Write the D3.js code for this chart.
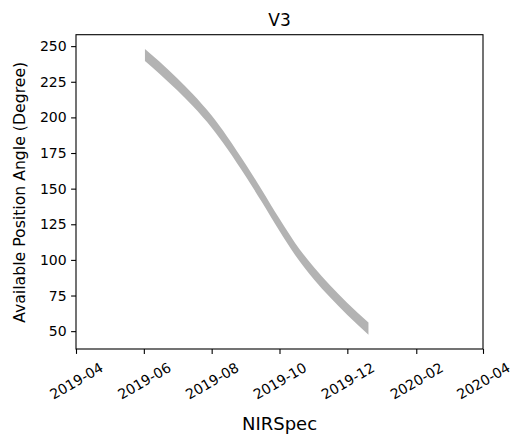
<!DOCTYPE html>
<html>
<head>
<meta charset="utf-8">
<script src="https://cdn.jsdelivr.net/npm/d3@7"></script>
<style>
  html, body { margin: 0; padding: 0; background: #fff; }
  text { font-family: "DejaVu Sans", sans-serif; fill: #000; }
</style>
</head>
<body>
<svg id="chart" width="513" height="435"></svg>
<script>
// Observation window for V3 position angle (NIRSpec)
const dates = ["2019-06-02", "2019-06-15", "2019-07-01", "2019-07-15", "2019-08-01",
               "2019-08-15", "2019-09-01", "2019-09-15", "2019-10-01", "2019-10-15",
               "2019-11-01", "2019-11-15", "2019-12-01", "2019-12-20"];
const paMax = [248.0, 239.2, 227.5, 216.5, 201.3, 186.5, 166.6, 149.3, 128.8, 111.9,
               94.8, 82.6, 69.8, 56.0];
const paMin = [239.5, 230.7, 219.0, 208.0, 192.8, 178.0, 158.1, 140.8, 120.3, 103.4,
               86.3, 74.1, 61.3, 47.5];
const yTicks = [50, 75, 100, 125, 150, 175, 200, 225, 250];
const xTickDates = ["2019-04-01", "2019-06-01", "2019-08-01", "2019-10-01",
                    "2019-12-01", "2020-02-01", "2020-04-01"];
const xDomain = ["2019-04-01", "2020-04-01"];

const parse = d3.utcParse("%Y-%m-%d");
const fmt = d3.utcFormat("%Y-%m");
const rows = dates.map((d, i) => ({ t: parse(d), hi: paMax[i], lo: paMin[i] }));

const svg = d3.select("#chart");
const m = { left: 76, right: 483, top: 34.7, bottom: 349 };

const x = d3.scaleUtc().domain(xDomain.map(parse)).range([m.left, m.right]);
const lo = d3.min(paMin), hi = d3.max(paMax), pad = (hi - lo) * 0.05;
const y = d3.scaleLinear().domain([lo - pad, hi + pad]).range([m.bottom, m.top]);

// band between min and max available angle
const area = d3.area()
  .curve(d3.curveMonotoneX)
  .x(d => x(d.t))
  .y0(d => y(d.lo))
  .y1(d => y(d.hi));

svg.append("path")
  .datum(rows)
  .attr("d", area)
  .attr("fill", "#b3b3b3")
  .attr("stroke", "none");

// frame
svg.append("rect")
  .attr("x", m.left).attr("y", m.top)
  .attr("width", m.right - m.left).attr("height", m.bottom - m.top)
  .attr("fill", "none").attr("stroke", "#000").attr("stroke-width", 1.1);

// y axis
const yAxis = svg.append("g")
  .attr("transform", `translate(${m.left},0)`)
  .call(d3.axisLeft(y).tickValues(yTicks).tickSize(4.9).tickPadding(4.5));
yAxis.select(".domain").remove();
yAxis.selectAll(".tick line").attr("stroke", "#000").attr("stroke-width", 1.1);
yAxis.selectAll(".tick text")
  .attr("font-size", "14px").attr("fill", "#000")
  .attr("font-family", "DejaVu Sans, sans-serif");

// x axis with rotated labels
const xAxis = svg.append("g")
  .attr("transform", `translate(0,${m.bottom})`)
  .call(d3.axisBottom(x).tickValues(xTickDates.map(parse)).tickFormat(fmt).tickSize(4.9));
xAxis.select(".domain").remove();
xAxis.selectAll(".tick line").attr("stroke", "#000").attr("stroke-width", 1.1);
xAxis.selectAll(".tick text")
  .attr("font-size", "14px").attr("fill", "#000")
  .attr("font-family", "DejaVu Sans, sans-serif")
  .attr("x", 0).attr("y", 32).attr("dy", "0.35em")
  .attr("text-anchor", "middle")
  .attr("transform", "rotate(-30,0,32)");

// title and axis labels
svg.append("text")
  .attr("x", (m.left + m.right) / 2).attr("y", 25.5)
  .attr("text-anchor", "middle").attr("font-size", "17px")
  .text("V3");

svg.append("text")
  .attr("x", (m.left + m.right) / 2).attr("y", 430)
  .attr("text-anchor", "middle").attr("font-size", "18px")
  .text("NIRSpec");

svg.append("text")
  .attr("transform", `translate(25,${(m.top + m.bottom) / 2 + 0.5}) rotate(-90)`)
  .attr("text-anchor", "middle").attr("font-size", "15.7px")
  .text("Available Position Angle (Degree)");
</script>
</body>
</html>
